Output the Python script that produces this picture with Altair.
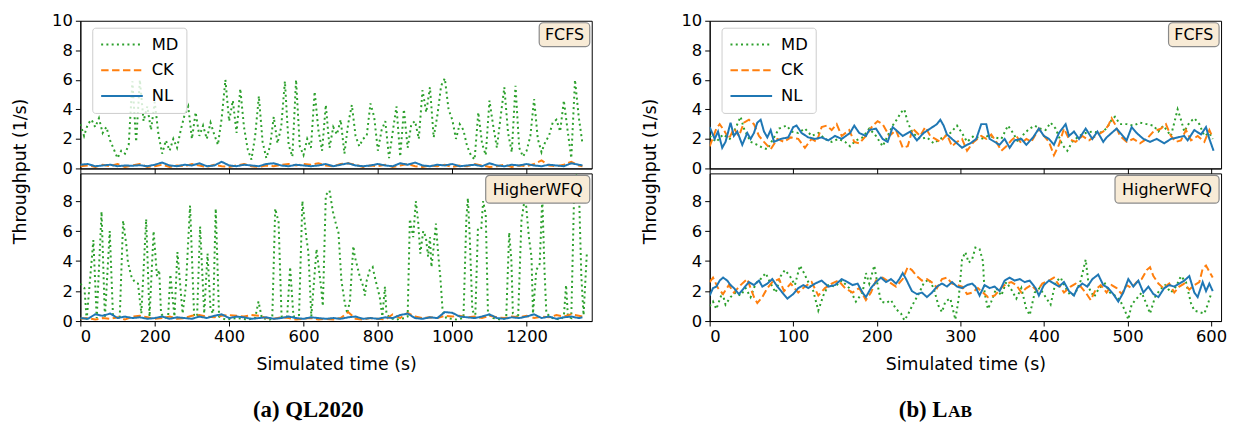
import altair as alt
import pandas as pd

# ---------------- series definitions ----------------
SERIES = ["MD", "CK", "NL"]
COLORS = ["#2ca02c", "#ff7f0e", "#1f77b4"]
DASHES = [[2, 3.3], [7.5, 3.5], [1, 0]]

# ---------------- (a) QL2020, FCFS ----------------
QL_FCFS_MD_T = list(range(0, 1351, 10))
QL_FCFS_MD = [3.0, 2.2, 3.0, 3.3, 2.8, 3.4, 2.4, 2.8, 1.9, 1.3,
              0.7, 1.2, 1.0, 1.6, 5.9, 1.8, 6.0, 3.2, 4.2, 2.6,
              4.5, 2.3, 1.0, 1.9, 1.2, 2.0, 1.4, 2.6, 3.6, 4.2,
              2.0, 3.8, 2.2, 2.9, 2.0, 3.1, 2.3, 1.6, 3.4, 6.0,
              3.2, 4.6, 2.4, 5.4, 2.8, 1.3, 0.6, 2.2, 4.9, 1.8,
              0.7, 1.5, 3.5, 1.7, 2.8, 5.9, 1.6, 0.8, 6.0, 1.5,
              0.9, 2.0, 1.4, 5.2, 2.6, 1.2, 4.3, 1.4, 2.8, 2.3,
              3.3, 1.0, 3.0, 4.3, 2.2, 1.5, 2.0, 2.2, 4.4, 3.5,
              1.2, 2.6, 3.2, 0.7, 2.5, 4.2, 0.8, 4.0, 1.4, 3.0,
              3.2, 2.0, 5.3, 3.8, 5.5, 2.1, 3.6, 5.6, 6.1, 4.0,
              3.3, 2.0, 3.0, 2.6, 1.5, 0.9, 0.6, 3.8, 1.7, 0.9,
              4.6, 2.9, 1.4, 3.5, 5.5, 2.4, 1.1, 5.6, 1.4, 0.8,
              1.2, 2.2, 4.7, 2.0, 1.1, 1.8, 2.2, 3.1, 3.3, 2.5,
              4.6, 2.6, 0.7, 6.0, 3.5, 1.7]
QL_LOW_T = list(range(0, 1341, 20)) + [1350]
QL_FCFS_CK = [0.15, 0.2, 0.1, 0.25, 0.15, 0.3, 0.1, 0.2, 0.3, 0.1,
              0.15, 0.25, 0.1, 0.2, 0.15, 0.3, 0.2, 0.1, 0.25, 0.15,
              0.1, 0.2, 0.3, 0.15, 0.1, 0.2, 0.15, 0.25, 0.3, 0.2,
              0.3, 0.25, 0.35, 0.2, 0.15, 0.3, 0.35, 0.25, 0.1, 0.2,
              0.15, 0.25, 0.1, 0.2, 0.3, 0.15, 0.1, 0.2, 0.15, 0.25,
              0.1, 0.2, 0.15, 0.3, 0.2, 0.1, 0.15, 0.25, 0.1, 0.2,
              0.15, 0.3, 0.55, 0.2, 0.15, 0.25, 0.45, 0.2, 0.15]
QL_FCFS_NL = [0.25, 0.3, 0.15, 0.2, 0.25, 0.15, 0.2, 0.18, 0.22, 0.15,
              0.25, 0.4, 0.2, 0.15, 0.25, 0.2, 0.35, 0.15, 0.2, 0.45,
              0.2, 0.15, 0.25, 0.2, 0.15, 0.3, 0.35, 0.2, 0.15, 0.25,
              0.2, 0.15, 0.2, 0.3, 0.15, 0.25, 0.35, 0.2, 0.15, 0.2,
              0.3, 0.2, 0.15, 0.35, 0.25, 0.4, 0.2, 0.15, 0.25, 0.2,
              0.3, 0.15, 0.2, 0.25, 0.15, 0.35, 0.2, 0.15, 0.25, 0.2,
              0.3, 0.2, 0.15, 0.25, 0.2, 0.15, 0.35, 0.25, 0.2]

# ---------------- (a) QL2020, HigherWFQ ----------------
QL_HWFQ_MD_T = [0, 11, 17, 35, 44, 57, 66, 79, 88, 106, 115, 124, 128, 137, 146, 155, 164,
                177, 186, 197, 206, 212, 217, 226, 236, 242, 253, 261, 275, 284, 295, 306,
                314, 322, 333, 342, 350, 357, 364, 373, 390, 420, 450, 470, 479, 488, 510,
                516, 524, 533, 541, 556, 564, 573, 588, 597, 608, 613, 621, 635, 648, 652,
                660, 670, 679, 688,
                694, 702, 711, 718, 725, 734, 738, 747, 752, 761, 765, 770, 778, 786, 792,
                798, 805, 812, 819, 823, 832, 850, 872, 880, 886, 895, 902, 908, 914, 922,
                929, 935, 940, 944, 949, 956, 962, 968, 974, 984, 1010, 1030, 1038, 1042,
                1047, 1054, 1062, 1069, 1078, 1083, 1090, 1096, 1110, 1130, 1145, 1153,
                1159, 1163, 1177, 1186, 1195, 1199, 1206, 1213, 1217, 1226, 1235, 1242,
                1248, 1253, 1270, 1290, 1300, 1306, 1311, 1320, 1329, 1340, 1347, 1353, 1362]
QL_HWFQ_MD = [2.5, 2.2, 0.1, 5.4, 0.2, 7.3, 0.2, 6.0, 0.2, 0.3, 6.7, 5.0, 3.9, 3.0, 2.6, 2.5, 0.5,
              6.8, 0.3, 6.0, 3.0, 3.4, 0.5, 0.2, 0.3, 3.1, 0.3, 4.6, 0.5, 2.4, 7.7, 0.3,
              0.4, 6.3, 0.5, 4.5, 0.8, 0.5, 7.5, 0.3, 0.1, 0.2, 0.1, 0.2, 1.3, 0.2, 0.1,
              0.2, 7.5, 6.6, 0.3, 0.3, 3.6, 0.3, 0.4, 8.0, 5.5, 4.6, 0.3, 4.8, 2.1, 1.0,
              8.4, 8.7, 7.3, 6.4,
              5.9, 2.7, 1.2, 0.5, 1.4, 5.0, 4.3, 3.4, 2.9, 2.3, 1.7, 2.7, 3.4, 3.6, 2.9,
              2.3, 1.6, 0.3, 2.3, 0.5, 0.2, 0.1, 0.2, 0.3, 6.8, 5.6, 8.0, 6.7, 4.5, 6.0,
              5.6, 4.3, 5.6, 3.6, 4.7, 6.5, 4.5, 2.9, 0.7, 0.2, 0.1, 0.2, 6.9, 8.2,
              5.6, 0.7, 0.4, 6.2, 6.2, 8.0, 7.1, 0.5, 0.2, 0.1, 0.2, 5.9,
              4.0, 0.5, 0.2, 6.7, 8.2, 7.6, 5.6, 4.3, 0.5, 3.4, 3.8, 8.2,
              3.4, 0.5, 0.2, 0.1, 0.3, 2.4, 0.3, 0.2, 10.0, 9.3, 3.0, 0.4, 4.6]
QL_HWFQ_CK = [0.15, 0.2, 0.1, 0.2, 0.15, 0.25, 0.1, 0.3, 0.35, 0.25,
              0.15, 0.2, 0.3, 0.15, 0.2, 0.35, 0.4, 0.3, 0.25, 0.35,
              0.4, 0.35, 0.3, 0.4, 0.35, 0.2, 0.15, 0.25, 0.2, 0.1,
              0.15, 0.2, 0.1, 0.15, 0.1, 0.2, 0.6, 0.15, 0.1, 0.2,
              0.15, 0.1, 0.45, 0.2, 0.55, 0.3, 0.2, 0.25, 0.2, 0.35,
              0.3, 0.35, 0.25, 0.3, 0.2, 0.35, 0.25, 0.2, 0.3, 0.25,
              0.35, 0.2, 0.3, 0.25, 0.4, 0.3, 0.45, 0.35, 0.3]
QL_HWFQ_NL = [0.2, 0.15, 0.45, 0.35, 0.5, 0.2, 0.3, 0.2, 0.25, 0.15,
              0.2, 0.3, 0.15, 0.25, 0.2, 0.15, 0.3, 0.2, 0.35, 0.45,
              0.2, 0.3, 0.25, 0.15, 0.2, 0.25, 0.15, 0.2, 0.3, 0.2,
              0.15, 0.25, 0.2, 0.15, 0.2, 0.15, 0.25, 0.3, 0.15, 0.2,
              0.15, 0.25, 0.2, 0.4, 0.5, 0.2, 0.15, 0.25, 0.2, 0.6,
              0.55, 0.3, 0.25, 0.2, 0.3, 0.45, 0.2, 0.15, 0.25, 0.2,
              0.3, 0.45, 0.2, 0.3, 0.15, 0.25, 0.3, 0.2, 0.25]

# ---------------- (b) Lab, FCFS ----------------
LAB_FCFS_MD_T = [0, 8, 16, 24, 30, 37, 41, 49, 57, 63, 69, 75, 83, 92, 98, 106, 114, 122, 130, 138,
                 146, 154, 162, 168, 175, 183, 191, 199, 207, 213, 219, 225, 229, 233, 237, 243,
                 252, 260, 268, 276, 282, 288, 296, 302, 308, 316, 325, 333, 341, 349, 357, 363,
                 369, 377, 383, 389, 395, 402, 408, 414, 422, 428, 434, 442, 450, 458, 467, 475,
                 481, 485, 491, 499, 507, 515, 523, 531, 537, 543, 552, 560, 564, 568, 574, 580,
                 586, 592, 598, 602]
LAB_FCFS_MD = [2.2, 1.8, 2.3, 2.0, 2.6, 3.5, 2.7, 1.8, 1.6, 1.4, 1.3, 1.9, 2.7, 2.9, 2.5, 2.4, 2.7, 2.2, 2.4, 2.0,
               1.8, 2.0, 1.8, 1.5, 1.9, 2.1, 2.7, 2.2, 1.5, 2.2, 2.9, 3.4, 3.8, 4.0, 3.1, 2.4,
               2.0, 2.1, 1.7, 2.0, 2.2, 2.4, 2.9, 2.4, 1.8, 2.2, 2.0, 2.2, 2.1, 2.0, 2.9, 2.4,
               1.8, 2.4, 2.7, 2.9, 2.7, 2.6, 3.1, 2.7, 1.6, 1.2, 1.8, 2.2, 2.4, 2.5, 2.4, 2.7,
               3.3, 3.5, 3.0, 3.0, 2.9, 3.1, 3.0, 2.9, 2.5, 2.9, 2.2, 4.0, 3.3, 2.5, 3.1, 3.4,
               3.0, 2.2, 2.4, 2.0]
LAB_FCFS_CK_T = [0, 8, 12, 18, 23, 29, 35, 41, 47, 53, 59, 65, 73, 81, 89, 97, 106, 114, 122, 128,
                 134, 140, 146, 152, 158, 167, 173, 179, 187, 195, 201, 207, 215, 223, 231, 237,
                 243, 252, 258, 264, 270, 276, 284, 290, 296, 302, 308, 316, 325, 331, 337, 343,
                 349, 355, 361, 367, 373, 379, 385, 394, 400, 406, 412, 418, 424, 430, 438, 446,
                 454, 462, 471, 477, 481, 485, 491, 499, 507, 515, 523, 531, 540, 546, 552, 558,
                 564, 570, 576, 584, 592, 598, 602]
LAB_FCFS_CK = [1.5, 2.7, 3.0, 2.5, 2.0, 2.7, 2.2, 3.1, 3.3, 3.0, 2.2, 1.8, 1.3, 2.0, 1.8, 2.1, 2.0, 1.4, 2.0, 1.8,
               2.8, 2.9, 2.6, 3.0, 2.2, 2.6, 1.8, 1.7, 2.2, 2.9, 3.2, 3.0, 2.2, 2.6, 1.4, 1.5,
               2.7, 2.2, 2.8, 2.2, 2.0, 1.8, 2.3, 1.5, 1.8, 2.0, 1.2, 1.8, 2.2, 2.0, 2.3, 1.8,
               1.2, 1.5, 1.9, 2.2, 1.7, 2.0, 1.8, 2.7, 2.2, 1.8, 0.9, 1.6, 2.7, 2.0, 1.8, 2.2,
               1.9, 2.2, 2.5, 2.9, 3.4, 3.0, 2.2, 1.8, 2.0, 1.7, 2.0, 2.5, 2.7, 3.0, 2.2, 1.8,
               1.9, 2.6, 1.9, 2.2, 1.8, 2.6, 2.1]
LAB_FCFS_NL_T = [0, 6, 10, 15, 19, 25, 29, 33, 39, 45, 49, 53, 57, 61, 65, 69, 73, 77, 85, 94,
                 100, 104, 110, 118, 126, 134, 142, 150, 158, 168, 173, 179, 187, 191, 199, 207,
                 213, 219, 225, 231, 240, 248, 256, 264, 272, 276, 280, 284, 290, 296, 302, 308,
                 312, 319, 325, 331, 335, 341, 347, 353, 359, 365, 373, 379, 387, 394, 400, 406,
                 412, 418, 426, 430, 436, 442, 450, 458, 464, 471, 475, 481, 487, 493, 499, 505,
                 511, 519, 527, 535, 544, 552, 560, 568, 572, 580, 588, 594, 598, 603]
LAB_FCFS_NL = [2.8, 2.0, 2.5, 1.4, 1.8, 3.1, 2.2, 2.5, 1.6, 2.4, 2.0, 2.4, 3.1, 3.3, 2.5, 2.1, 2.6, 1.8, 2.0, 2.1,
               2.8, 2.9, 2.4, 2.1, 2.0, 2.1, 1.9, 2.2, 2.0, 2.4, 2.9, 2.4, 2.2, 2.6, 2.7, 2.0,
               1.8, 2.8, 2.5, 2.2, 2.5, 1.9, 2.4, 2.7, 3.0, 3.3, 2.9, 2.3, 2.0, 1.7, 1.4, 1.6,
               1.7, 2.0, 3.0, 3.0, 2.0, 1.8, 1.6, 2.0, 1.4, 1.9, 2.0, 1.6, 2.1, 2.7, 2.2, 2.0,
               1.6, 2.4, 3.0, 2.2, 2.5, 2.0, 2.7, 2.0, 2.5, 1.8, 2.1, 2.4, 2.7, 2.3, 1.9, 2.8,
               2.4, 2.0, 1.8, 2.0, 1.7, 2.0, 2.1, 2.2, 1.9, 2.6, 2.3, 2.8, 2.0, 1.2]

# ---------------- (b) Lab, HigherWFQ ----------------
LAB_HWFQ_MD_T = [0, 4, 8, 15, 19, 25, 31, 37, 43, 49, 55, 61, 67, 73, 79, 85, 90, 96, 102, 108,
                 112, 118, 124, 130, 136, 142, 150, 158, 167, 175, 183, 187, 191, 197, 201, 205,
                 211, 217, 223, 229, 233, 237, 243, 250, 256, 262, 268, 274, 278, 282, 288, 294,
                 298, 302, 306, 310, 314, 318, 323, 327, 329, 333, 337, 343, 349, 355, 361, 367,
                 373, 379, 383, 389, 395, 402, 408, 414, 420, 426, 432, 438, 444, 450, 454, 460,
                 466, 473, 479, 485, 491, 497, 501, 505, 511, 517, 523, 527, 533, 539, 545, 552,
                 558, 564, 570, 576, 580, 586, 592, 596, 600]
LAB_HWFQ_MD = [1.0, 1.3, 0.8, 1.9, 1.1, 1.6, 1.9, 1.7, 2.2, 1.6, 2.5, 2.8, 3.2, 2.5, 1.9, 3.0, 3.4, 3.0, 2.4, 3.7,
               3.3, 2.6, 2.0, 0.7, 1.7, 2.4, 2.3, 2.7, 2.2, 1.3, 1.9, 3.2, 2.5, 3.7, 2.4, 1.3,
               1.2, 1.4, 0.8, 0.5, 0.05, 0.4, 1.1, 1.8, 2.5, 2.8, 2.2, 1.0, 0.6, 1.3, 1.5, 0.1,
               1.5, 4.1, 4.6, 3.9, 4.1, 4.9, 4.8, 4.0, 1.9, 0.8, 1.3, 2.2, 1.7, 2.6, 2.1, 1.5,
               2.2, 0.8, 0.4, 1.9, 2.2, 1.6, 1.1, 2.6, 2.9, 2.2, 1.7, 1.9, 2.7, 4.1, 2.2, 1.6,
               2.2, 2.5, 1.9, 1.7, 1.4, 0.7, 0.1, 1.1, 1.5, 1.9, 1.1, 0.5, 1.6, 2.1, 2.4, 1.9,
               2.3, 3.0, 2.6, 1.2, 0.7, 0.6, 0.5, 1.1, 1.8]
LAB_HWFQ_CK_T = [0, 4, 10, 16, 23, 29, 37, 45, 53, 57, 63, 69, 75, 83, 89, 97, 106, 114, 122, 130,
                 138, 146, 154, 162, 171, 179, 187, 193, 199, 207, 215, 223, 231, 237, 242, 248,
                 254, 260, 268, 272, 278, 284, 290, 296, 302, 308, 314, 321, 327, 333, 341, 349,
                 355, 361, 367, 373, 379, 385, 392, 398, 406, 412, 418, 424, 432, 438, 444, 450,
                 456, 462, 468, 475, 481, 487, 493, 499, 505, 511, 517, 523, 527, 531, 537, 543,
                 550, 556, 562, 568, 574, 580, 586, 590, 594, 598, 602]
LAB_HWFQ_CK = [2.6, 2.9, 2.2, 1.8, 2.4, 1.9, 2.4, 2.8, 1.6, 1.2, 1.6, 2.2, 2.6, 2.8, 2.0, 2.5, 1.9, 2.3, 2.6, 1.7,
               2.2, 2.5, 2.7, 2.2, 1.9, 2.2, 1.4, 1.9, 2.7, 2.9, 2.6, 2.3, 2.8, 3.6, 3.4, 3.0,
               2.7, 2.8, 2.5, 2.2, 2.8, 2.9, 2.5, 2.4, 2.3, 1.8, 1.9, 2.2, 1.9, 1.6, 1.7, 2.2,
               2.5, 2.6, 2.4, 1.9, 2.2, 2.4, 2.0, 2.5, 2.7, 2.9, 2.4, 1.9, 2.3, 2.5, 2.3, 1.9,
               1.4, 2.1, 2.4, 1.9, 2.4, 2.2, 1.8, 2.4, 2.2, 2.6, 2.8, 3.4, 3.6, 3.0, 2.5, 2.2,
               2.5, 1.9, 2.3, 2.5, 2.1, 2.4, 2.6, 3.5, 3.7, 3.3, 2.9]
LAB_HWFQ_NL_T = [0, 4, 8, 12, 16, 21, 25, 29, 35, 41, 47, 53, 59, 63, 69, 75, 81, 87, 93, 100,
                 106, 112, 118, 126, 134, 142, 150, 158, 165, 171, 177, 183, 187, 193, 199, 205,
                 211, 217, 223, 227, 231, 235, 242, 248, 254, 260, 266, 272, 278, 284, 290, 296,
                 302, 308, 314, 318, 323, 329, 335, 341, 347, 353, 359, 365, 371, 377, 383, 390,
                 394, 400, 406, 412, 418, 424, 430, 436, 440, 446, 452, 458, 465, 471, 477, 483,
                 489, 495, 501, 507, 513, 519, 525, 531, 537, 544, 550, 556, 562, 568, 574, 580,
                 584, 590, 594, 598, 602]
LAB_HWFQ_NL = [1.7, 2.2, 2.3, 2.7, 2.9, 2.7, 2.4, 2.2, 1.8, 2.2, 2.6, 2.4, 2.7, 2.3, 2.5, 2.8, 2.3, 1.9, 1.5, 1.8,
               2.2, 2.4, 2.2, 2.5, 2.7, 2.3, 2.4, 2.8, 2.6, 2.4, 2.5, 1.9, 1.6, 2.2, 2.6, 2.9,
               2.6, 2.8, 2.5, 2.8, 3.2, 2.8, 2.0, 1.8, 1.9, 1.6, 1.9, 2.3, 2.5, 2.3, 2.6, 2.3,
               2.2, 2.4, 2.5, 2.3, 1.7, 2.4, 2.2, 2.3, 2.0, 2.7, 2.9, 2.7, 2.8, 2.6, 2.7, 2.2,
               1.7, 2.4, 2.7, 2.5, 2.3, 2.6, 2.0, 1.7, 2.2, 2.5, 2.3, 2.8, 3.1, 2.4, 2.2, 1.8,
               1.3, 1.9, 2.8, 2.3, 2.7, 1.9, 2.3, 1.8, 1.6, 2.2, 2.4, 2.3, 2.5, 2.7, 3.0, 1.9,
               1.6, 2.6, 2.0, 2.5, 2.0]

QL_XTICKS = [0, 200, 400, 600, 800, 1000, 1200]
LAB_XTICKS = [0, 100, 200, 300, 400, 500, 600]

FONT = "DejaVu Sans"
W, H = 516, 149


def build_legend():
    return alt.Legend(
        title=None, orient="none", legendX=12, legendY=7,
        symbolType="stroke", symbolSize=1764, symbolStrokeWidth=2,
        clipHeight=18, rowPadding=8, padding=8, labelOffset=8,
        labelFontSize=16.5, labelFont=FONT, labelColor="black",
        fillColor="rgba(255,255,255,0.8)", strokeColor="#cccccc",
        cornerRadius=3,
    )


def subplot(data, xmax, xticks, ymax, yticks, top, label, caption=None):
    xaxis = alt.Axis(values=xticks, labels=not top, ticks=True, format="d",
                     title=None if top else "Simulated time (s)", titlePadding=10)
    if top:
        yaxis = alt.Axis(values=yticks, title="Throughput (1/s)", titleX=-51,
                         titleY=H + 2.5, titleAngle=270, titleAlign="center",
                         titleBaseline="bottom")
    else:
        yaxis = alt.Axis(values=yticks, title=None)
    layers = []
    for name, (t, v) in zip(SERIES, data):
        df = pd.DataFrame({"t": t[:len(v)], "v": v[:len(t)], "s": name})
        leg = build_legend() if top else None
        layers.append(
            alt.Chart(df).mark_line(strokeWidth=2, clip=True, strokeCap="butt").encode(
                x=alt.X("t:Q", scale=alt.Scale(domain=[0, xmax], nice=False, zero=False), axis=xaxis),
                y=alt.Y("v:Q", scale=alt.Scale(domain=[0, ymax], nice=False), axis=yaxis),
                color=alt.Color("s:N", scale=alt.Scale(domain=SERIES, range=COLORS), legend=leg),
                strokeDash=alt.StrokeDash("s:N", scale=alt.Scale(domain=SERIES, range=DASHES), legend=leg),
            )
        )
    lab = pd.DataFrame({"label": [label]})
    if label == "FCFS":
        bx1, by2, cx, cy = W - 53, 26, W - 27.5, 14.5
    else:
        bx1, by2, cx, cy = W - 107, 30, W - 54.5, 16.5
    layers.append(alt.Chart(lab).mark_rect(fill="#f8ebd6", stroke="#8a8a8a", strokeWidth=1.2,
                                           cornerRadius=4).encode(
        x=alt.value(bx1), x2=alt.value(W - 2), y=alt.value(2), y2=alt.value(by2)))
    layers.append(alt.Chart(lab).mark_text(font=FONT, fontSize=16, color="black",
                                           align="center", baseline="middle").encode(
        x=alt.value(cx), y=alt.value(cy), text="label:N"))
    if caption is not None:
        cap = pd.DataFrame({"c": [0]})
        for txt, size, align, xpos in caption:
            layers.append(alt.Chart(cap).mark_text(text=txt, font="Liberation Serif", fontWeight="bold",
                                                   fontSize=size, color="black", align=align,
                                                   baseline="alphabetic").encode(
                x=alt.value(xpos), y=alt.value(246)))
    return alt.layer(*layers).properties(width=W, height=H)


tl = subplot([(QL_FCFS_MD_T, QL_FCFS_MD), (QL_LOW_T, QL_FCFS_CK), (QL_LOW_T, QL_FCFS_NL)],
             1375, QL_XTICKS, 10, [0, 2, 4, 6, 8, 10], True, "FCFS")
bl = subplot([(QL_HWFQ_MD_T, QL_HWFQ_MD), (QL_LOW_T, QL_HWFQ_CK), (QL_LOW_T, QL_HWFQ_NL)],
             1375, QL_XTICKS, 9.85, [0, 2, 4, 6, 8], False, "HigherWFQ",
             caption=[("(a) QL2020", 23, "center", 230)])
tr = subplot([(LAB_FCFS_MD_T, LAB_FCFS_MD), (LAB_FCFS_CK_T, LAB_FCFS_CK), (LAB_FCFS_NL_T, LAB_FCFS_NL)],
             612, LAB_XTICKS, 10, [0, 2, 4, 6, 8, 10], True, "FCFS")
br = subplot([(LAB_HWFQ_MD_T, LAB_HWFQ_MD), (LAB_HWFQ_CK_T, LAB_HWFQ_CK), (LAB_HWFQ_NL_T, LAB_HWFQ_NL)],
             612, LAB_XTICKS, 9.85, [0, 2, 4, 6, 8], False, "HigherWFQ",
             caption=[("(b) L", 23, "right", 240), ("AB", 17.5, "left", 240.5)])

chart = alt.concat(tl, tr, bl, br, columns=2, spacing={"row": 5, "column": 119}, bounds="flush").resolve_scale(
    x="independent", y="independent", color="independent", strokeDash="independent"
).resolve_legend(color="independent", strokeDash="independent").properties(
    padding={"left": 3, "top": 2, "right": 0, "bottom": 0}
).configure_axis(
    labelFont=FONT, titleFont=FONT, labelFontSize=16.5, titleFontSize=17.5, titleFontWeight="normal",
    labelColor="black", titleColor="black", tickColor="black", domainColor="black",
    tickSize=5, labelPadding=3, grid=False,
).configure_view(stroke="black", strokeWidth=1)

chart.save("out.html", embed_options={"renderer": "svg", "actions": False})
